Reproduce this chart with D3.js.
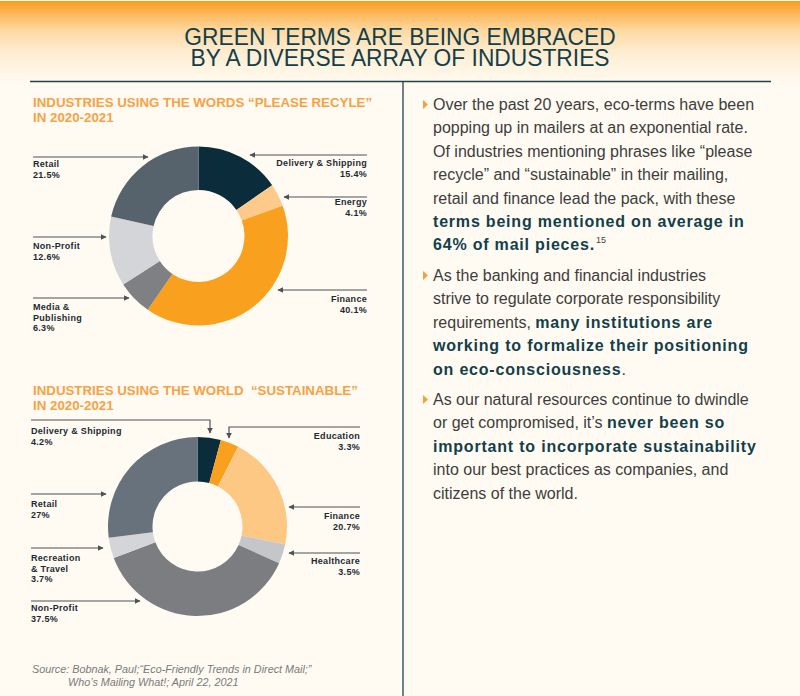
<!DOCTYPE html>
<html><head><meta charset="utf-8">
<script src="https://cdn.jsdelivr.net/npm/d3@7"></script>
<style>body{margin:0;background:#fffbf2;} svg{display:block}</style>
</head><body>
<svg id="c" width="800" height="696"></svg>
<script>
// ---------- DATA ----------
const titleLines = ["GREEN TERMS ARE BEING EMBRACED", "BY A DIVERSE ARRAY OF INDUSTRIES"];

const recycleTitle = ["INDUSTRIES USING THE WORDS \u201CPLEASE RECYLE\u201D", "IN 2020-2021"];
const recycleCategories = ["Delivery & Shipping", "Energy", "Finance", "Media & Publishing", "Non-Profit", "Retail"];
const recycleLabelLines = [["Delivery & Shipping"], ["Energy"], ["Finance"], ["Media &", "Publishing"], ["Non-Profit"], ["Retail"]];
const recycleValues = [15.4, 4.1, 40.1, 6.3, 12.6, 21.5];
const recycleColors = ["#0b2c3a", "#fdca8c", "#f9a11e", "#7f8083", "#d4d5d8", "#56626c"];

const sustainTitle = ["INDUSTRIES USING THE WORLD  \u201CSUSTAINABLE\u201D", "IN 2020-2021"];
const sustainCategories = ["Delivery & Shipping", "Education", "Finance", "Healthcare", "Non-Profit", "Recreation & Travel", "Retail"];
const sustainLabelLines = [["Delivery & Shipping"], ["Education"], ["Finance"], ["Healthcare"], ["Non-Profit"], ["Recreation", "& Travel"], ["Retail"]];
const sustainValues = [4.2, 3.3, 20.7, 3.5, 37.5, 3.7, 27];
const sustainColors = ["#0b2c3a", "#f9a11e", "#fdc784", "#c4c6c9", "#7c7d80", "#d4d5d8", "#68727c"];

// paragraphs: each line is a list of [text, style]  (0 normal, 1 bold, 2 superscript)
const paragraphs = [
  [
    [["Over the past 20 years, eco-terms have been", 0]],
    [["popping up in mailers at an exponential rate.", 0]],
    [["Of industries mentioning phrases like \u201Cplease", 0]],
    [["recycle\u201D and \u201Csustainable\u201D in their mailing,", 0]],
    [["retail and finance lead the pack, with these", 0]],
    [["terms being mentioned on average in", 1]],
    [["64% of mail pieces.", 1], ["15", 2]]
  ],
  [
    [["As the banking and financial industries", 0]],
    [["strive to regulate corporate responsibility", 0]],
    [["requirements, ", 0], ["many institutions are", 1]],
    [["working to formalize their positioning", 1]],
    [["on eco-consciousness", 1], [".", 0]]
  ],
  [
    [["As our natural resources continue to dwindle", 0]],
    [["or get compromised, it\u2019s ", 0], ["never been so", 1]],
    [["important to incorporate sustainability", 1]],
    [["into our best practices as companies, and", 0]],
    [["citizens of the world.", 0]]
  ]
];
const sourceLines = ["Source: Bobnak, Paul;\u201CEco-Friendly Trends in Direct Mail;\u201D", "Who\u2019s Mailing What!; April 22, 2021"];

// ---------- LAYOUT ----------
const svg = d3.select("#c");
const W = 800, H = 696;
const dark = "#123f4b";
const labelColor = "#1c2a33";
const arrowColor = "#4d5257";

const defs = svg.append("defs");
const grad = defs.append("linearGradient").attr("id", "hdr").attr("x1", 0).attr("y1", 0).attr("x2", 0).attr("y2", 1);
[[0, "#f99b16"], [0.12, "#fbb250"], [0.35, "#fdd9a2"], [0.6, "#feecd0"], [0.85, "#fff6e6"], [1, "#fffbf2"]]
  .forEach(([o, c]) => grad.append("stop").attr("offset", o).attr("stop-color", c));
defs.append("marker").attr("id", "arr").attr("viewBox", "0 0 10 10").attr("refX", 9).attr("refY", 5)
  .attr("markerWidth", 6).attr("markerHeight", 6).attr("markerUnits", "userSpaceOnUse").attr("orient", "auto")
  .append("path").attr("d", "M0,0L10,5L0,10z").attr("fill", arrowColor);

svg.append("rect").attr("width", W).attr("height", H).attr("fill", "#fffbf2");
svg.append("rect").attr("x", 0).attr("y", 1).attr("width", W).attr("height", 84).attr("fill", "url(#hdr)");

// header title (one text element, two lines)
const ht = svg.append("text").attr("transform", "translate(400,45) scale(0.95,1)")
  .attr("text-anchor", "middle").attr("font-family", "Liberation Sans, Arial, sans-serif")
  .attr("font-size", 24).attr("fill", dark);
titleLines.forEach((t, i) => ht.append("tspan").attr("x", 0).attr("y", i * 21).text(t));

svg.append("line").attr("x1", 30).attr("x2", 771).attr("y1", 81.5).attr("y2", 81.5).attr("stroke", "#1d4450").attr("stroke-width", 1.3);
svg.append("line").attr("x1", 403).attr("x2", 403).attr("y1", 81).attr("y2", H).attr("stroke", "#1d4450").attr("stroke-width", 1.3);

// ---------- DONUTS ----------
function donut(cfg) {
  const g = svg.append("g");
  cfg.title.forEach((t, i) => g.append("text").attr("x", 33).attr("y", cfg.titleY + i * 15)
    .attr("font-family", "Liberation Sans, Arial, sans-serif").attr("font-weight", "bold")
    .style("white-space", "pre")
    .attr("font-size", 13.3).attr("fill", "#f5a247").text(t));
  const pie = d3.pie().sort(null).value(d => d);
  const arc = d3.arc().innerRadius(cfg.ri).outerRadius(cfg.ro);
  const color = d3.scaleOrdinal().domain(cfg.categories).range(cfg.colors);
  g.append("g").attr("transform", `translate(${cfg.cx},${cfg.cy})`)
    .selectAll("path").data(pie(cfg.values)).join("path")
    .attr("d", arc).attr("fill", (d, i) => color(cfg.categories[i]));

  cfg.categories.forEach((c, i) => {
    const L = cfg.layout[i];
    const right = L.side === "R";
    const startX = right ? cfg.rightX : cfg.leftX;
    let pts;
    if (L.elbowX !== undefined) pts = [[startX, L.ly], [L.elbowX, L.ly], [L.elbowX, L.tipY]];
    else pts = [[startX, L.ly], [L.tipX, L.ly]];
    g.append("path").attr("d", d3.line()(pts)).attr("fill", "none").attr("stroke", arrowColor)
      .attr("stroke-width", 1.2).attr("marker-end", "url(#arr)");
    const lines = cfg.labelLines[i].concat([cfg.values[i] + "%"]);
    lines.forEach((t, k) => g.append("text").attr("x", startX).attr("y", L.ty + k * 10.6)
      .attr("text-anchor", right ? "end" : "start")
      .attr("font-family", "Liberation Sans, Arial, sans-serif").attr("font-weight", "bold")
      .attr("font-size", 9).attr("letter-spacing", 0.3).attr("fill", labelColor).text(t));
  });
}

donut({
  title: recycleTitle, titleY: 107, categories: recycleCategories, labelLines: recycleLabelLines,
  values: recycleValues, colors: recycleColors, cx: 198.5, cy: 236, ri: 46, ro: 89.5,
  leftX: 33, rightX: 367,
  layout: [
    { side: "R", ly: 155, tipX: 250, ty: 166 },
    { side: "R", ly: 197, tipX: 284, ty: 205 },
    { side: "R", ly: 290, tipX: 278, ty: 302 },
    { side: "L", ly: 298, tipX: 129, ty: 310 },
    { side: "L", ly: 237, tipX: 106, ty: 249 },
    { side: "L", ly: 157, tipX: 148, ty: 167 }
  ]
});

donut({
  title: sustainTitle, titleY: 395, categories: sustainCategories, labelLines: sustainLabelLines,
  values: sustainValues, colors: sustainColors, cx: 197.5, cy: 526.5, ri: 45, ro: 89.5,
  leftX: 31, rightX: 360,
  layout: [
    { side: "L", ly: 420, elbowX: 210, tipY: 433, ty: 434 },
    { side: "R", ly: 427, elbowX: 229, tipY: 438, ty: 439 },
    { side: "R", ly: 507, tipX: 289, ty: 519 },
    { side: "R", ly: 553, tipX: 289, ty: 564 },
    { side: "L", ly: 601, tipX: 140, ty: 611 },
    { side: "L", ly: 548, tipX: 103, ty: 561 },
    { side: "L", ly: 494, tipX: 106, ty: 507 }
  ]
});

// ---------- RIGHT TEXT ----------
const paraStart = [110, 281, 405];
const lh = 23.4;
paragraphs.forEach((p, pi) => {
  const y0 = paraStart[pi];
  svg.append("path").attr("d", `M423,${y0 - 10}L428,${y0 - 5.5}L423,${y0 - 1}Z`).attr("fill", "#f7a033");
  p.forEach((line, li) => {
    const t = svg.append("text").attr("x", 433).attr("y", y0 + li * lh)
      .attr("font-family", "Liberation Sans, Arial, sans-serif").attr("font-size", 16);
    line.forEach(([s, b]) => {
      const ts = t.append("tspan").text(s);
      if (b === 1) ts.attr("font-weight", "bold").attr("fill", dark).attr("letter-spacing", 0.8);
      else if (b === 2) ts.attr("font-size", 9).attr("dy", -7).attr("dx", 1).attr("fill", "#444");
      else ts.attr("fill", "#3d3d3d");
    });
  });
});

// source
sourceLines.forEach((s, i) => svg.append("text").attr("x", i ? 68 : 32).attr("y", 672.5 + i * 13.5)
  .attr("font-family", "Liberation Sans, Arial, sans-serif").attr("font-style", "italic")
  .attr("font-size", 10.8).attr("fill", "#7a7a7a").text(s));
</script>
</body></html>
